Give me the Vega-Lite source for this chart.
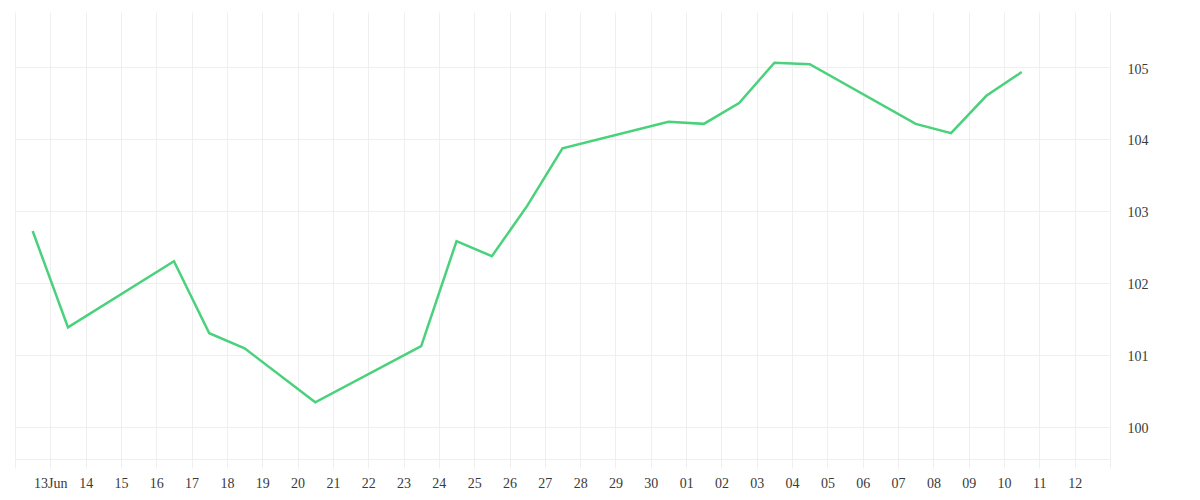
{
  "$schema": "https://vega.github.io/schema/vega-lite/v6.json",
  "width": 1095,
  "height": 447,
  "autosize": {"type": "none"},
  "padding": {"left": 15, "top": 12, "right": 90, "bottom": 41},
  "background": "white",
  "config": {"view": {"stroke": null}},
  "data": {
    "values": [
      {"date": "2025-06-12T12:00:00", "value": 102.72},
      {"date": "2025-06-13T12:00:00", "value": 101.38},
      {"date": "2025-06-16T12:00:00", "value": 102.30},
      {"date": "2025-06-17T12:00:00", "value": 101.30},
      {"date": "2025-06-18T12:00:00", "value": 101.09},
      {"date": "2025-06-20T12:00:00", "value": 100.34},
      {"date": "2025-06-23T12:00:00", "value": 101.12},
      {"date": "2025-06-24T12:00:00", "value": 102.58},
      {"date": "2025-06-25T12:00:00", "value": 102.37},
      {"date": "2025-06-26T12:00:00", "value": 103.07},
      {"date": "2025-06-27T12:00:00", "value": 103.87},
      {"date": "2025-06-30T12:00:00", "value": 104.24},
      {"date": "2025-07-01T12:00:00", "value": 104.21},
      {"date": "2025-07-02T12:00:00", "value": 104.50},
      {"date": "2025-07-03T12:00:00", "value": 105.06},
      {"date": "2025-07-04T12:00:00", "value": 105.04},
      {"date": "2025-07-07T12:00:00", "value": 104.21},
      {"date": "2025-07-08T12:00:00", "value": 104.08},
      {"date": "2025-07-09T12:00:00", "value": 104.60},
      {"date": "2025-07-10T12:00:00", "value": 104.93}
    ]
  },
  "mark": {"type": "line", "color": "#4ad17b", "strokeWidth": 2.5, "interpolate": "linear"},
  "encoding": {
    "x": {
      "field": "date",
      "type": "temporal",
      "scale": {"domain": ["2025-06-12T00:00:00", "2025-07-13T00:00:00"], "nice": false},
      "axis": {
        "title": null,
        "tickCount": {"interval": "day", "step": 1},
        "grid": true,
        "gridColor": "#efefef",
        "gridWidth": 1,
        "domainColor": "#efefef",
        "tickColor": "#efefef",
        "tickSize": 9,
        "labelPadding": 8,
        "labelOverlap": false,
        "labelFlush": false,
        "labelFont": "Liberation Serif",
        "labelFontSize": 14,
        "labelColor": "#3a3a3a",
        "labelExpr": "(month(datum.value)==5 && date(datum.value)==12) || (month(datum.value)==6 && date(datum.value)==13) ? '' : (month(datum.value)==5 && date(datum.value)==13 ? '13Jun' : timeFormat(datum.value, '%d'))"
      }
    },
    "y": {
      "field": "value",
      "type": "quantitative",
      "scale": {"domain": [99.551, 105.765], "nice": false, "zero": false},
      "axis": {
        "title": null,
        "orient": "right",
        "values": [100, 101, 102, 103, 104, 105],
        "grid": true,
        "gridColor": "#efefef",
        "ticks": false,
        "domain": false,
        "labelPadding": 17,
        "labelOffset": 2,
        "labelFont": "Liberation Serif",
        "labelFontSize": 14,
        "labelColor": "#3a3a3a"
      }
    }
  }
}
